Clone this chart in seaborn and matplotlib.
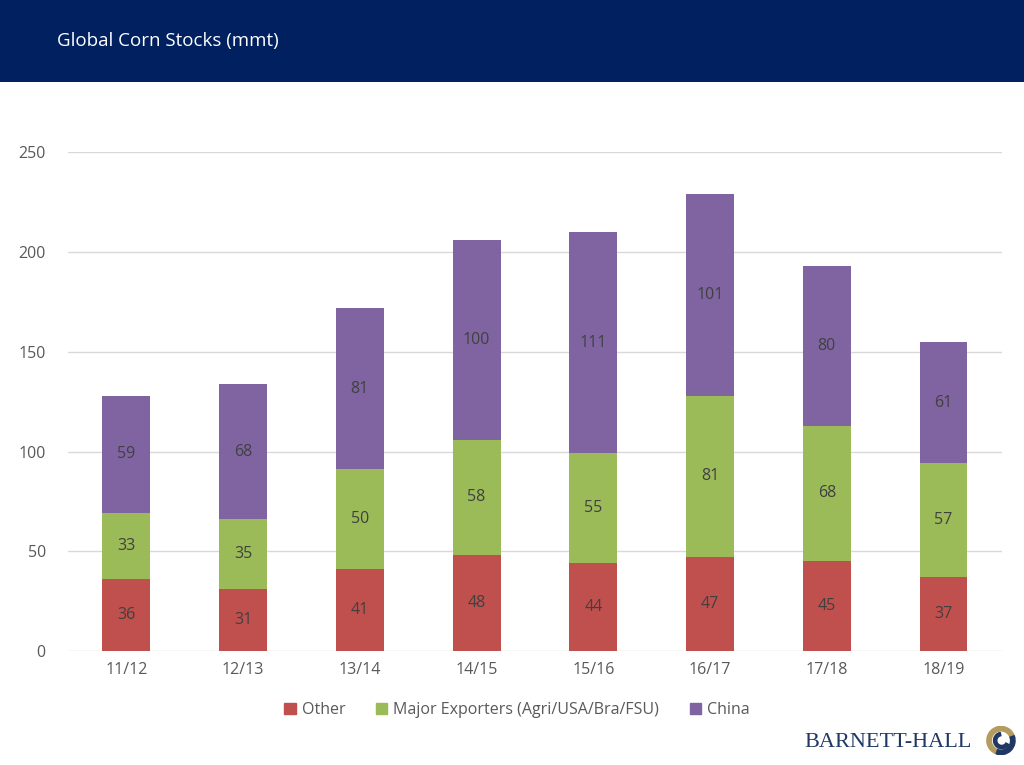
import numpy as np
import pandas as pd
import matplotlib
matplotlib.use("Agg")
import matplotlib.pyplot as plt
import seaborn as sns
from matplotlib.patches import Rectangle, Wedge, Patch

seasons = ["11/12", "12/13", "13/14", "14/15", "15/16", "16/17", "17/18", "18/19"]
other = [36, 31, 41, 48, 44, 47, 45, 37]
major = [33, 35, 50, 58, 55, 81, 68, 57]
china = [59, 68, 81, 100, 111, 101, 80, 61]

c_other = "#C0504D"
c_major = "#9BBB59"
c_china = "#8064A2"
navy = "#002060"
grey = "#595959"

sns.set_theme(style="white")
plt.rcParams["font.family"] = ["Open Sans", "DejaVu Sans"]

df = pd.DataFrame({"season": seasons, "other": other, "major": major, "china": china})
df["lvl1"] = df["other"]
df["lvl2"] = df["other"] + df["major"]
df["lvl3"] = df["lvl2"] + df["china"]

fig = plt.figure(figsize=(10.24, 7.65), dpi=100)
ax = fig.add_axes([0.0664, 0.149, 0.912, 0.652])

# stacked bars drawn as overlapping cumulative totals
bar_kw = dict(saturation=1, width=0.41, ax=ax, zorder=3, linewidth=0, edgecolor="none")
sns.barplot(data=df, x="season", y="lvl3", color=c_china, **bar_kw)
sns.barplot(data=df, x="season", y="lvl2", color=c_major, **bar_kw)
sns.barplot(data=df, x="season", y="lvl1", color=c_other, **bar_kw)

for i, row in df.iterrows():
    for lo, val in [(0, row["other"]), (row["lvl1"], row["major"]), (row["lvl2"], row["china"])]:
        ax.text(i, lo + val / 2, f"{val}", ha="center", va="center",
                fontsize=11.5, color="#404040", zorder=4)

ax.set_ylim(0, 250)
ax.set_yticks(range(0, 251, 50))
ax.yaxis.grid(True, color="#D9D9D9", lw=1, zorder=0)
ax.set_axisbelow(True)
for s in ax.spines.values():
    s.set_visible(False)
ax.tick_params(axis="both", length=0, labelsize=11.5, colors=grey, pad=8)
ax.tick_params(axis="y", pad=16)
ax.set_xlabel("")
ax.set_ylabel("")

handles = [Patch(color=c_other, label="Other"),
           Patch(color=c_major, label="Major Exporters (Agri/USA/Bra/FSU)"),
           Patch(color=c_china, label="China")]
fig.legend(handles=handles, loc="center", bbox_to_anchor=(0.505, 0.072), ncol=3,
           frameon=False, fontsize=11.5, handlelength=0.7, handleheight=0.7,
           handletextpad=0.4, columnspacing=1.9, labelcolor=grey)

# header band
fig.add_artist(Rectangle((0, 0.893), 1, 0.107, transform=fig.transFigure,
                         facecolor=navy, edgecolor="none", zorder=0))
fig.text(0.056, 0.947, "Global Corn Stocks (mmt)", color="white", fontsize=13.5,
         ha="left", va="center")

# logo
fig.text(0.786, 0.030, "BARNETT-HALL", family="Liberation Serif", fontsize=16,
         color="#1F3864", ha="left", va="center")
lax = fig.add_axes([0.963, 0.012, 0.029, 0.04])
lax.set_xlim(-1, 1)
lax.set_ylim(-1, 1)
lax.set_aspect("equal")
lax.axis("off")
lax.add_patch(Wedge((0, 0), 0.95, 20, 250, width=0.3, color="#B59B5E"))
lax.add_patch(Wedge((0, 0), 0.95, 250, 20, width=0.3, color="#1F3864"))
lax.add_patch(Wedge((0.05, 0), 0.55, 100, 330, width=0.22, color="#1F3864"))

fig.savefig("out.png", dpi=100)
